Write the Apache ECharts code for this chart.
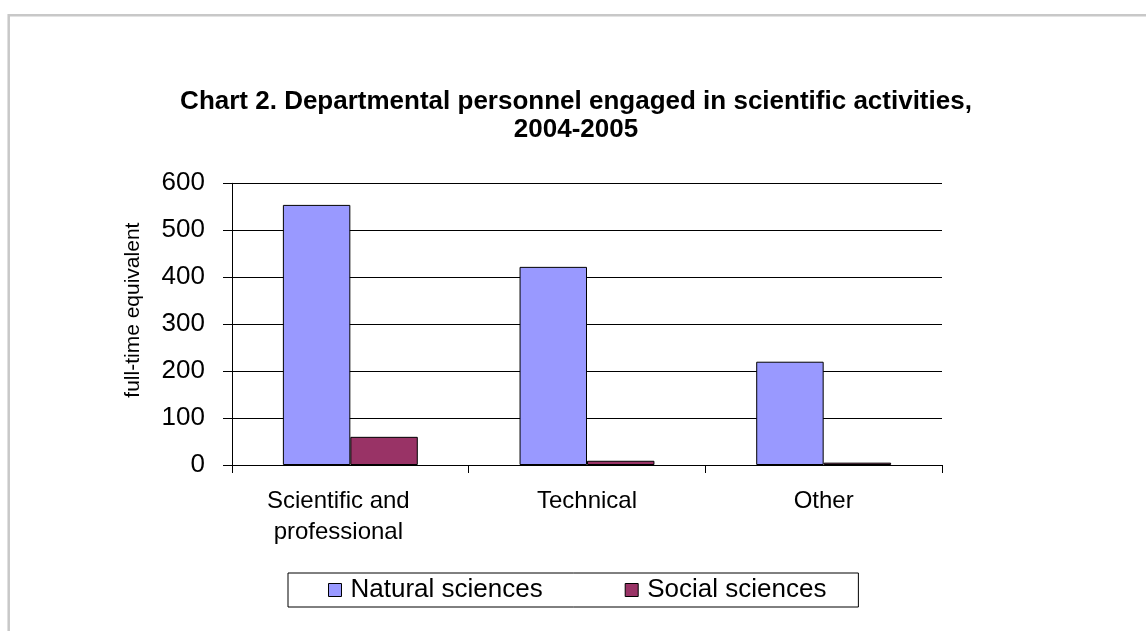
<!DOCTYPE html>
<html>
<head>
<meta charset="utf-8">
<script src="https://cdn.jsdelivr.net/npm/echarts@6/dist/echarts.min.js"></script>
<style>
html,body{margin:0;padding:0;background:#fff;}
#chart{width:1146px;height:631px;}
</style>
</head>
<body>
<div id="chart"></div>
<script>
var titleText = 'Chart 2. Departmental personnel engaged in scientific activities,\n2004-2005';
var categories = ['Scientific and\nprofessional', 'Technical', 'Other'];
var seriesNames = ['Natural sciences', 'Social sciences'];
var naturalSciences = [554, 422, 220];
var socialSciences = [60, 9, 5];
var yTicks = [0, 100, 200, 300, 400, 500, 600];
var yAxisName = 'full-time equivalent';

var FONT = '"Liberation Sans", Arial, sans-serif';
var categoryData = categories.map(function (c, i) {
  return i === 0 ? {value: c, textStyle: {padding: [0, 24, 0, 0]}} : c;
});
var chart = echarts.init(document.getElementById('chart'), null, {renderer: 'canvas'});
chart.setOption({
  animation: false,
  backgroundColor: '#fff',
  textStyle: {fontFamily: FONT, color: '#000'},
  graphic: [{
    type: 'rect',
    shape: {x: 8.7, y: 15.3, width: 1300, height: 800},
    style: {fill: 'none', stroke: '#c8c8c8', lineWidth: 2.5},
    silent: true, z: -10
  }],
  title: {
    text: titleText,
    left: 571, top: 83, textAlign: 'center',
    textStyle: {fontFamily: FONT, fontSize: 26, fontWeight: 'bold', color: '#000', lineHeight: 28}
  },
  legend: {
    data: seriesNames,
    left: 288, top: 573,
    padding: [4, 32, 4, 40],
    itemGap: 82,
    itemWidth: 13, itemHeight: 13,
    icon: 'rect',
    borderColor: '#000', borderWidth: 1,
    textStyle: {fontFamily: FONT, fontSize: 26, color: '#000', padding: [0, 0, 0, 4]},
    itemStyle: {borderColor: '#000', borderWidth: 1}
  },
  grid: {left: 232, right: 204, top: 183.3, bottom: 166, containLabel: false},
  xAxis: {
    type: 'category',
    data: categoryData,
    axisLine: {lineStyle: {color: '#000', width: 1}},
    axisTick: {show: true, alignWithLabel: false, length: 8, lineStyle: {color: '#000'}},
    axisLabel: {fontFamily: FONT, fontSize: 24, color: '#000', margin: 21, lineHeight: 31, interval: 0}
  },
  yAxis: {
    type: 'value',
    min: yTicks[0], max: yTicks[yTicks.length - 1], interval: 100,
    name: yAxisName,
    nameLocation: 'middle',
    nameGap: 88,
    nameTextStyle: {fontFamily: FONT, fontSize: 21, color: '#000', padding: [0, 0, 0, 28]},
    axisLine: {show: true, lineStyle: {color: '#000', width: 1}},
    axisTick: {show: true, length: 9, lineStyle: {color: '#000'}},
    axisLabel: {fontFamily: FONT, fontSize: 26, color: '#000', margin: 27},
    splitLine: {show: true, lineStyle: {color: '#000', width: 1}}
  },
  series: [{
    name: seriesNames[0], type: 'bar', data: naturalSciences,
    barGap: '0%', barCategoryGap: '43%',
    itemStyle: {color: '#9999FF', borderColor: '#000', borderWidth: 1}
  }, {
    name: seriesNames[1], type: 'bar', data: socialSciences,
    barGap: '0%', barCategoryGap: '43%',
    itemStyle: {color: '#993366', borderColor: '#000', borderWidth: 1}
  }]
});
</script>
</body>
</html>
